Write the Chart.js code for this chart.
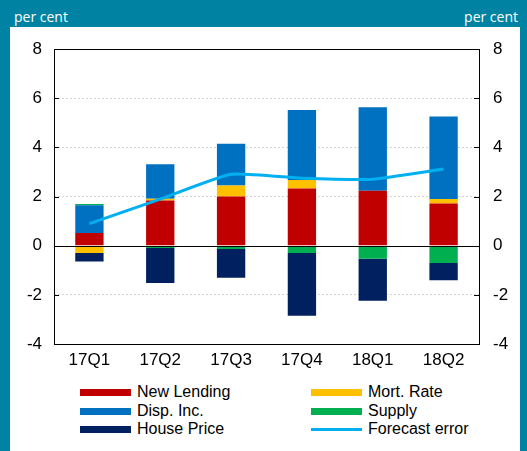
<!DOCTYPE html>
<html>
<head>
<meta charset="utf-8">
<script src="https://cdn.jsdelivr.net/npm/chart.js@4.4.1/dist/chart.umd.min.js"></script>
<style>
  html, body { margin: 0; padding: 0; }
  body { width: 527px; height: 451px; background: #0083a2; position: relative; overflow: hidden;
         font-family: "Liberation Sans", Arial, sans-serif; }
  .unit { position: absolute; top: 7px; color: #fff; font: 14px "Open Sans", "Noto Sans", sans-serif; }
  #panel { position: absolute; left: 10px; top: 27px; width: 510px; height: 424px; background: #fff; }
  #wrap { position: absolute; left: 0; top: -2px; width: 510px; height: 350px; }
  .lg { position: absolute; height: 18px; line-height: 18px; font-size: 16px; color: #000;
        font-family: "Liberation Sans Narrow", "Arial Narrow", "Liberation Sans", sans-serif; white-space: nowrap; }
  .lg i { position: absolute; left: 0; width: 51px; }
  .lg span { position: absolute; left: 57px; top: 0; }
</style>
</head>
<body>
<div class="unit" style="left:14px">per cent</div>
<div class="unit" style="right:9px">per cent</div>
<div id="panel">
  <div id="wrap"><canvas id="chart"></canvas></div>
  <div id="legend"></div>
</div>
<script>
// Housing-market decomposition: stacked contributions + forecast error line

const quarters = ['17Q1', '17Q2', '17Q3', '17Q4', '18Q1', '18Q2'];
const yTicks = [-4, -2, 0, 2, 4, 6, 8];

const newLending = [0.52, 1.84, 2.0, 2.33, 2.24, 1.72];
const mortRate = [-0.3, 0.07, 0.45, 0.35, 0.0, 0.18];
const dispInc = [1.13, 1.41, 1.7, 2.85, 3.4, 3.36];
const supply = [0.05, -0.09, -0.13, -0.3, -0.53, -0.7];
const housePrice = [-0.34, -1.43, -1.17, -2.55, -1.71, -0.71];
const forecastError = [0.9, 1.9, 2.91, 2.75, 2.71, 3.12];

const colours = {
    lending: '#c00000',
    rate: '#ffc000',
    income: '#0070c0',
    supply: '#00b050',
    price: '#002060',
    error: '#00b0f0'
};

// box, zero line and inward ticks on both value axes
const frame = {
    id: 'frame',
    afterDatasetsDraw(chart) {
        const { ctx, chartArea: a, scales } = chart;
        const y = scales.y;
        ctx.save();
        ctx.strokeStyle = '#000';
        ctx.lineWidth = 1;
        const z = Math.round(y.getPixelForValue(0)) + 0.5;
        ctx.beginPath();
        ctx.moveTo(a.left, z);
        ctx.lineTo(a.right, z);
        ctx.stroke();
        ctx.strokeRect(Math.round(a.left) + 0.5, Math.round(a.top) + 0.5,
            Math.round(a.right - a.left), Math.round(a.bottom - a.top));
        yTicks.forEach(v => {
            const p = Math.round(y.getPixelForValue(v)) + 0.5;
            ctx.beginPath();
            ctx.moveTo(a.left, p);
            ctx.lineTo(a.left + 5, p);
            ctx.moveTo(a.right, p);
            ctx.lineTo(a.right - 5, p);
            ctx.stroke();
        });
        ctx.restore();
    }
};

const tickFont = { family: '"Liberation Sans Narrow", "Arial Narrow", "Liberation Sans", sans-serif', size: 17 };

const bar = (label, data, color) => ({
    type: 'bar',
    label: label,
    data: data,
    backgroundColor: color,
    borderWidth: 0,
    barPercentage: 0.4,
    categoryPercentage: 1,
    stack: 'parts',
    order: 1
});

new Chart(document.getElementById('chart'), {
    data: {
        labels: quarters,
        datasets: [
            bar('New Lending', newLending, colours.lending),
            bar('Mort. Rate', mortRate, colours.rate),
            bar('Disp. Inc.', dispInc, colours.income),
            bar('Supply', supply, colours.supply),
            bar('House Price', housePrice, colours.price),
            {
                type: 'line',
                label: 'Forecast error',
                data: forecastError,
                borderColor: colours.error,
                borderWidth: 3,
                pointRadius: 0,
                tension: 0.15,
                stack: 'line',
                order: 0
            }
        ]
    },
    options: {
        responsive: true,
        maintainAspectRatio: false,
        animation: false,
        layout: { padding: 0 },
        plugins: { legend: { display: false }, tooltip: { enabled: false } },
        scales: {
            x: {
                stacked: true,
                grid: { display: false, drawTicks: false },
                border: { display: false },
                ticks: { color: '#000', font: tickFont, padding: 6 },
                afterFit: s => { s.height = 31; }
            },
            y: {
                stacked: true,
                position: 'left',
                min: -4,
                max: 8,
                grid: {
                    drawTicks: false,
                    color: c => (c.tick && [-2, 2, 4, 6].includes(c.tick.value)) ? '#d4d4d4' : 'rgba(0,0,0,0)'
                },
                border: { display: false, dash: [2, 2] },
                ticks: { stepSize: 2, color: '#000', font: tickFont, padding: 12 },
                afterFit: s => { s.width = 44; }
            },
            y2: {
                position: 'right',
                min: -4,
                max: 8,
                grid: { drawOnChartArea: false, drawTicks: false },
                border: { display: false },
                ticks: { stepSize: 2, color: '#000', font: tickFont, padding: 14 },
                afterFit: s => { s.width = 41; }
            }
        }
    },
    plugins: [frame]
});

// two-column legend under the plot
const legendItems = [
    ['New Lending', colours.lending, 80, 383, 7],
    ['Mort. Rate', colours.rate, 311, 383, 7],
    ['Disp. Inc.', colours.income, 80, 402, 7],
    ['Supply', colours.supply, 311, 402, 7],
    ['House Price', colours.price, 80, 420, 7],
    ['Forecast error', colours.error, 311, 420, 3]
];
const legend = document.getElementById('legend');
legendItems.forEach(([text, color, x, y, h]) => {
    const el = document.createElement('div');
    el.className = 'lg';
    el.style.left = (x - 10) + 'px';
    el.style.top = (y - 27) + 'px';
    el.innerHTML = '<i style="top:' + (9 - h / 2) + 'px;height:' + h + 'px;background:' + color + '"></i><span>' + text + '</span>';
    legend.appendChild(el);
});
</script>
</body>
</html>
